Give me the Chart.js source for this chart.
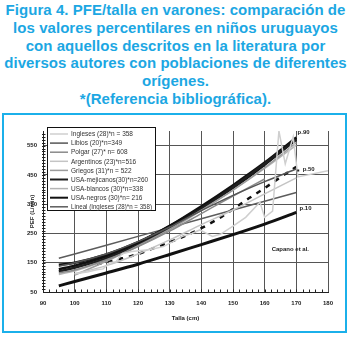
<!DOCTYPE html>
<html>
<head>
<meta charset="utf-8">
<script src="https://cdn.jsdelivr.net/npm/chart.js@4"></script>
<style>
body { margin: 0; background: #fff; width: 351px; height: 337px; overflow: hidden; position: relative; font-family: "Liberation Sans", Arial, sans-serif; }
#titulo { position: absolute; left: 0; top: 1px; width: 351px; text-align: center; color: #1ca7e3; font-weight: bold; font-size: 15px; line-height: 17.8px; letter-spacing: 0.05px; }
#marco { position: absolute; left: 2px; top: 113px; width: 341px; height: 216px; border: 2px solid #1bb0ea; }
</style>
</head>
<body>
<div id="titulo">Figura 4. PFE/talla en varones: comparación de<br>los valores percentilares en niños uruguayos<br>con aquellos descritos en la literatura por<br>diversos autores con poblaciones de diferentes<br>orígenes.<br>*(Referencia bibliográfica).</div>
<div id="marco"><canvas id="grafico" width="341" height="216"></canvas></div>
<script>
// talla (cm) comun a casi todas las curvas
const talla = [95, 100, 110, 120, 130, 140, 150, 160, 170, 180];

const libios       = [138, 150, 180, 222, 272, 328, 380, 427, 470, null];
const polgar       = [115, 125, 160, 205, 258, 318, 378, 436, null, null];
const argentinos   = [null, 112, 140, 180, 228, 280, 330, 385, 440, null];
const griegos      = [null, 108, 155, 208, 265, 330, 398, 475, 560, null];
const usaMejicanos = [120, 133, 165, 210, 268, 335, 408, 488, 570, null];
const usaBlancos   = [110, 122, 158, 205, 262, 328, 398, 472, 552, null];
const usaNegros    = [143, 150, 178, 220, 275, 338, 405, 485, 572, null];
const lineal       = [165, 180, 210, 240, 270, 300, 330, 360, 390, null];
const capanoP10    = [71, 86, 115, 145, 178, 212, 246, 282, 322, null];
const capanoP90    = [128, 140, 172, 218, 276, 343, 415, 492, 578, null];

// Ingleses: datos crudos, muy irregulares
const inglesesTalla = [100, 104, 107, 109, 111, 113, 115, 118, 121, 124, 128, 131, 134, 137, 139.5, 143.5, 146, 150, 154, 158.5, 160, 162.5, 164.5, 166.5, 169, 170.5, 180];
const ingleses      = [112, 118, 126, 129, 150, 153, 181, 188, 192, 195, 205, 222, 240, 250, 262, 240, 247, 275, 305, 357, 305, 326, 600, 488, 580, 443, 464];

// Capano p.50 (linea de trazos)
const p50Talla  = [107, 110, 115, 120, 125, 130, 135, 140, 145, 150, 155, 160, 165, 170];
const capanoP50 = [145, 152, 165, 180, 200, 220, 242, 268, 298, 333, 370, 405, 442, 478];

const xTicks = [90, 100, 110, 120, 130, 140, 150, 160, 170, 180];
const yTicks = [50, 150, 250, 350, 450, 550];

function puntos(xs, ys) {
    return xs.map((x, i) => ({ x: x, y: ys[i] })).filter(p => p.y !== null);
}

function serie(label, xs, ys, color, ancho, extra) {
    return Object.assign({
        label: label,
        data: puntos(xs, ys),
        borderColor: color,
        borderWidth: ancho,
        pointRadius: 0,
        fill: false,
        cubicInterpolationMode: 'monotone',
        enLeyenda: true
    }, extra || {});
}

const etiquetas = [
    { texto: 'p.90', x: 170.4, y: 597 },
    { texto: 'p.50', x: 172, y: 470 },
    { texto: 'p.10', x: 171, y: 336 },
    { texto: 'Capano et al.', x: 162.2, y: 195 }
];

const leyenda = {
    id: 'leyenda',
    afterDraw(chart) {
        const ctx = chart.ctx, a = chart.chartArea;
        const x0 = a.left + 4, y0 = a.top - 4, w = 108, h = 83;
        ctx.save();
        ctx.fillStyle = '#fff';
        ctx.fillRect(x0, y0, w, h);
        ctx.strokeStyle = '#111';
        ctx.lineWidth = 1;
        ctx.strokeRect(x0 + 0.5, y0 + 0.5, w, h);
        chart.data.datasets.filter(d => d.enLeyenda).forEach((d, i) => {
            const y = y0 + 7 + i * 9.1;
            ctx.strokeStyle = d.borderColor;
            ctx.lineWidth = Math.min(d.borderWidth, 2);
            ctx.beginPath();
            ctx.moveTo(x0 + 3, y);
            ctx.lineTo(x0 + 21, y);
            ctx.stroke();
            ctx.fillStyle = '#333';
            ctx.font = '6.5px "Liberation Sans"';
            ctx.textBaseline = 'middle';
            ctx.fillText(d.label, x0 + 24, y + 0.5, 81);
        });
        ctx.restore();
    }
};

const notas = {
    id: 'notas',
    afterDraw(chart) {
        const ctx = chart.ctx, sx = chart.scales.x, sy = chart.scales.y;
        ctx.save();
        ctx.fillStyle = '#222';
        ctx.font = 'bold 6px "Liberation Sans"';
        ctx.textBaseline = 'middle';
        etiquetas.forEach(e => ctx.fillText(e.texto, sx.getPixelForValue(e.x), sy.getPixelForValue(e.y)));
        ctx.fillRect(sx.getPixelForValue(170.6) - 1, sy.getPixelForValue(465) - 1, 2, 2);
        // marcas menores hacia dentro
        ctx.strokeStyle = '#222';
        ctx.lineWidth = 1;
        ctx.beginPath();
        for (let v = 92; v < 180; v += 2) {
            const px = Math.round(sx.getPixelForValue(v)) + 0.5;
            ctx.moveTo(px, sy.bottom);
            ctx.lineTo(px, sy.bottom - 2.5);
        }
        for (let v = 60; v < 600; v += 10) {
            const py = Math.round(sy.getPixelForValue(v)) + 0.5;
            ctx.moveTo(sx.left - 1, py);
            ctx.lineTo(sx.left + 2.5, py);
        }
        ctx.stroke();
        ctx.restore();
    }
};

const fuenteEje = { family: '"Liberation Sans"', size: 6, weight: 'bold' };

new Chart(document.getElementById('grafico'), {
    type: 'line',
    data: {
        datasets: [
            serie('Ingleses (28)*n = 358', inglesesTalla, ingleses, '#cfcfcf', 1.5, { cubicInterpolationMode: 'default', tension: 0 }),
            serie('Libios (20)*n=349', talla, libios, '#555', 1.5),
            serie('Polgar (27)* n= 608', talla, polgar, '#8a8a8a', 1.5),
            serie('Argentinos (23)*n=516', talla, argentinos, '#c4c4c4', 1.5),
            serie('Griegos (31)*n = 522', talla, griegos, '#9c9c9c', 1.5),
            serie('USA-mejicanos(30)*n=260', talla, usaMejicanos, '#1e1e1e', 2.5),
            serie('USA-blancos (30)*n=338', talla, usaBlancos, '#b4b4b4', 1.5),
            serie('USA-negros (30)*n= 216', talla, usaNegros, '#111', 2.5),
            serie('Lineal (Ingleses (28)*n = 358)', talla, lineal, '#5c5c5c', 1.5, { tension: 0, cubicInterpolationMode: 'default' }),
            serie('p.10', talla, capanoP10, '#111', 3, { enLeyenda: false }),
            serie('p.50', p50Talla, capanoP50, '#111', 2.5, { enLeyenda: false, borderDash: [5, 6] }),
            serie('p.90', talla, capanoP90, '#111', 2.5, { enLeyenda: false })
        ]
    },
    options: {
        responsive: false,
        animation: false,
        layout: { padding: { top: 16, right: 17, left: 0, bottom: 0 } },
        plugins: {
            legend: { display: false },
            tooltip: { enabled: false }
        },
        scales: {
            x: {
                type: 'linear',
                min: 90,
                max: 180,
                afterBuildTicks: s => { s.ticks = xTicks.map(v => ({ value: v })); },
                afterFit: s => { s.height = 39; },
                ticks: { font: fuenteEje, color: '#222', padding: 8 },
                grid: { color: c => (c.tick && c.tick.value === 90 ? 'transparent' : '#555'), drawTicks: false, tickLength: 0 },
                border: { color: '#222', width: 1 },
                title: { display: true, text: 'Talla (cm)', font: fuenteEje, color: '#222', padding: { top: 9, bottom: 9 } }
            },
            y: {
                min: 50,
                max: 600,
                afterBuildTicks: s => { s.ticks = yTicks.map(v => ({ value: v })); },
                afterFit: s => { s.width = 39; },
                ticks: { font: fuenteEje, color: '#222', padding: 6 },
                grid: { color: c => (c.tick && c.tick.value === 50 ? 'transparent' : '#555'), drawTicks: false, tickLength: 0 },
                border: { color: '#222', width: 1 },
                title: { display: true, text: 'PEF (L/min)', font: fuenteEje, color: '#222', padding: { top: 25, bottom: 25 } }
            }
        }
    },
    plugins: [leyenda, notas]
});
</script>
</body>
</html>
